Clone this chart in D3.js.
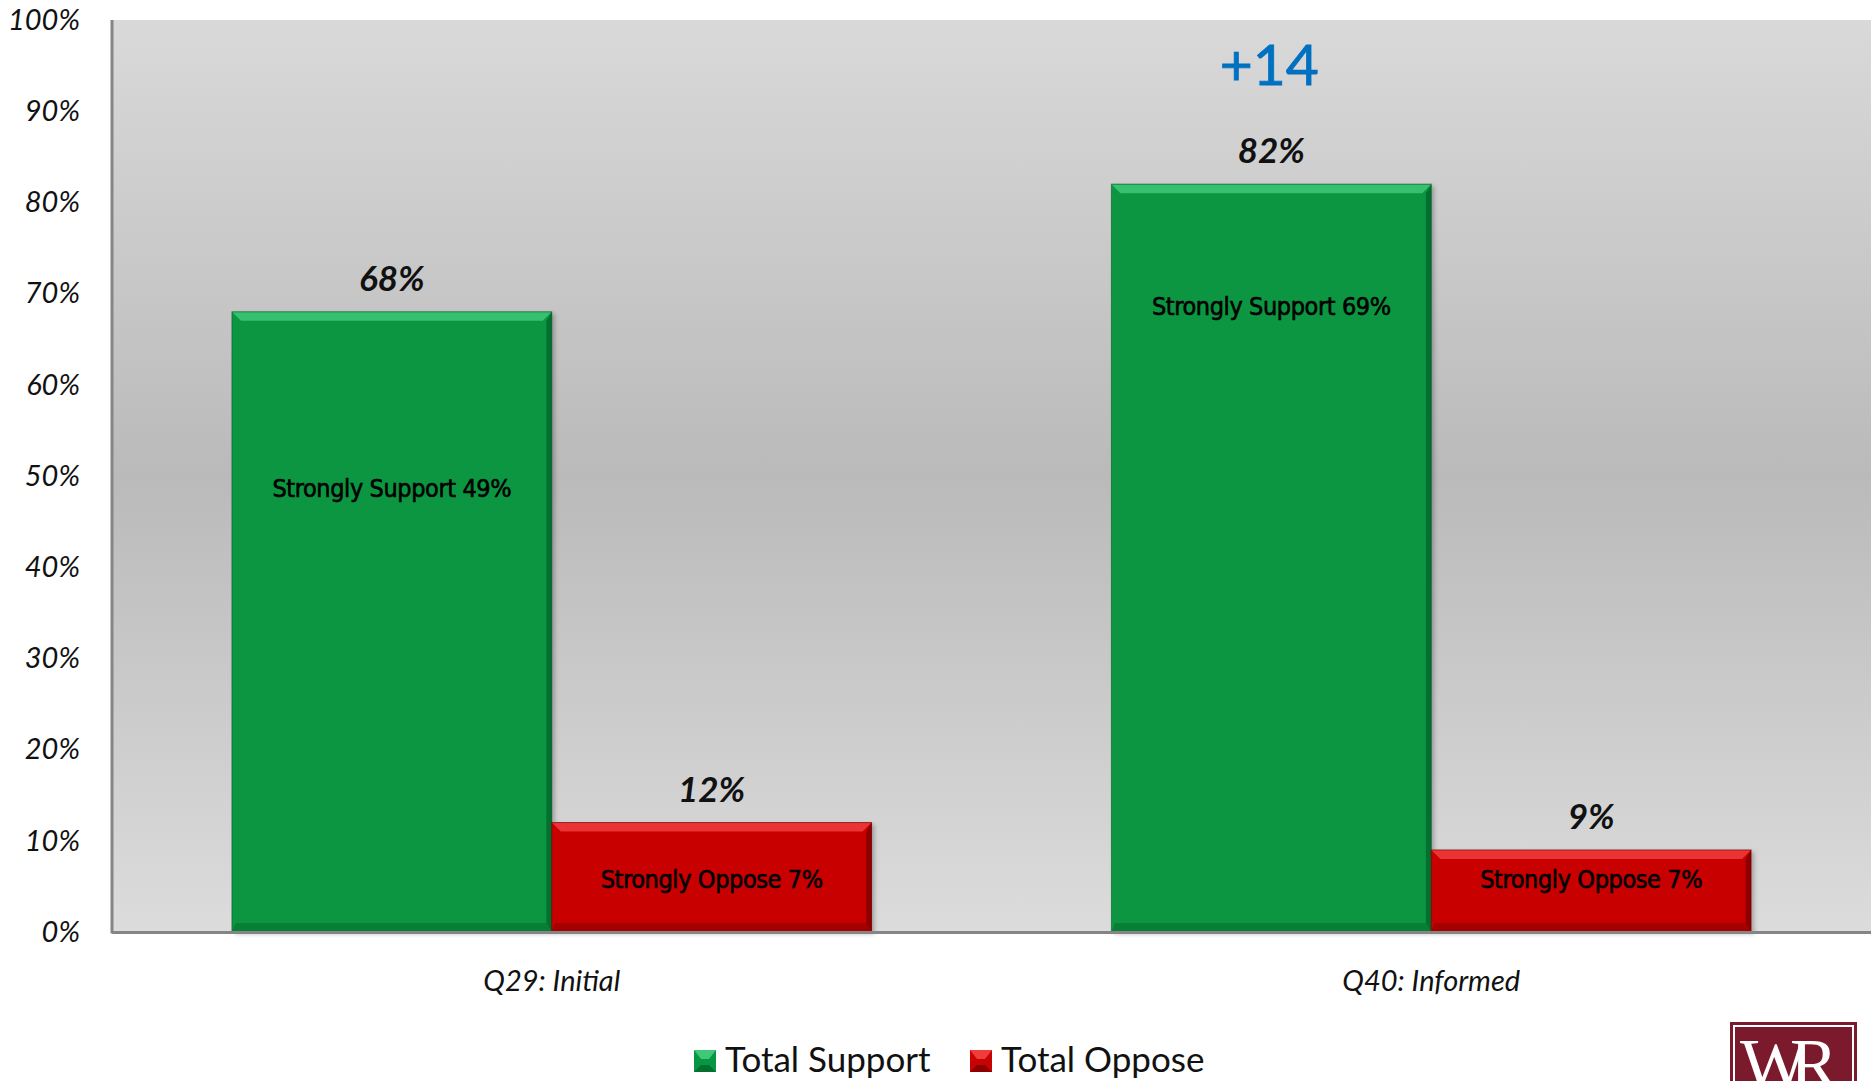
<!DOCTYPE html>
<html>
<head>
<meta charset="utf-8">
<script src="https://cdn.jsdelivr.net/npm/d3@7"></script>
<style>
  html, body { margin: 0; padding: 0; background: #ffffff; }
  svg { display: block; }
</style>
</head>
<body>
<svg id="chart" width="1871" height="1081"></svg>
<script>
// ---- data ----
const categories = ["Q29: Initial", "Q40: Informed"];
const seriesNames = ["Total Support", "Total Oppose"];
const totalSupport = [68, 82];
const totalOppose = [12, 9];
const strongSupport = [49, 69];
const strongOppose = [7, 7];
const yTicks = [0, 10, 20, 30, 40, 50, 60, 70, 80, 90, 100];
const changeLabel = "+14";

// ---- layout ----
const W = 1871, H = 1081;
const plot = { left: 112, right: 1871, top: 20, bottom: 932 };
const svg = d3.select("#chart");
const defs = svg.append("defs");

// background gradient
const bg = defs.append("linearGradient").attr("id", "bgGrad").attr("x1", 0).attr("y1", 0).attr("x2", 0).attr("y2", 1);
bg.append("stop").attr("offset", "0%").attr("stop-color", "#d9d9d9");
bg.append("stop").attr("offset", "50%").attr("stop-color", "#bababa");
bg.append("stop").attr("offset", "100%").attr("stop-color", "#dcdcdc");

const shadow = defs.append("filter").attr("id", "shadow").attr("x", "-10%").attr("y", "-10%").attr("width", "130%").attr("height", "130%");
shadow.append("feDropShadow").attr("dx", 3).attr("dy", 2).attr("stdDeviation", 2).attr("flood-color", "#000").attr("flood-opacity", 0.25);

const y = d3.scaleLinear().domain([0, 100]).range([plot.bottom, plot.top]);
const x0 = d3.scaleBand().domain(categories).range([plot.left, plot.right]).paddingInner(0).paddingOuter(0);
const x1 = d3.scaleBand().domain(seriesNames).range([0, x0.bandwidth()]).paddingInner(0).paddingOuter(0.375);

const colors = {
  "Total Support": { main: "#079643", light: "#3fc877", dark: "#04702f", darker: "#035a25", labelOffset: 5 },
  "Total Oppose": { main: "#c80303", light: "#f03c3c", dark: "#8e0000", darker: "#6a0000", labelOffset: 13 }
};

// plot background
svg.append("rect").attr("x", plot.left).attr("y", plot.top)
  .attr("width", plot.right - plot.left).attr("height", plot.bottom - plot.top)
  .attr("fill", "url(#bgGrad)");

// y axis
const yAxis = d3.axisLeft(y).tickValues(yTicks).tickFormat(d => d + "%").tickSize(0).tickPadding(32);
const gy = svg.append("g").attr("transform", `translate(${plot.left},0)`).call(yAxis);
gy.select(".domain").remove();
gy.selectAll("text")
  .attr("font-family", "Lato, 'Open Sans', sans-serif")
  .attr("font-style", "italic")
  .attr("font-size", 29)
  .attr("fill", "#111");

// x axis labels
const xAxis = d3.axisBottom(x0).tickSize(0).tickPadding(38);
const gx = svg.append("g").attr("transform", `translate(0,${plot.bottom})`).call(xAxis);
gx.select(".domain").remove();
gx.selectAll("text")
  .attr("font-family", "Lato, 'Open Sans', sans-serif")
  .attr("font-style", "italic")
  .attr("font-size", 29)
  .attr("fill", "#111");

// bars
const rows = categories.map((c, i) => ({
  cat: c,
  vals: [
    { s: "Total Support", v: totalSupport[i], strong: strongSupport[i], strongLabel: "Strongly Support " },
    { s: "Total Oppose", v: totalOppose[i], strong: strongOppose[i], strongLabel: "Strongly Oppose " }
  ]
}));

const groups = svg.selectAll("g.grp").data(rows).join("g")
  .attr("class", "grp")
  .attr("transform", d => `translate(${x0(d.cat)},0)`);

const bars = groups.selectAll("g.bar").data(d => d.vals).join("g").attr("class", "bar");

const bev = 9;
bars.each(function(d) {
  const g = d3.select(this);
  const c = colors[d.s];
  const bx = x1(d.s), bw = x1.bandwidth();
  const by = y(d.v), bh = y(0) - y(d.v);
  g.append("rect").attr("x", bx).attr("y", by).attr("width", bw).attr("height", bh)
    .attr("fill", c.main).attr("filter", "url(#shadow)");
  // top bevel
  g.append("path").attr("d", `M${bx},${by}L${bx + bw},${by}L${bx + bw - bev},${by + bev}L${bx + bev},${by + bev}Z`)
    .attr("fill", c.light).attr("opacity", 0.85);
  // right bevel
  g.append("path").attr("d", `M${bx + bw},${by}L${bx + bw},${by + bh}L${bx + bw - bev * 0.6},${by + bh - bev}L${bx + bw - bev * 0.6},${by + bev}Z`)
    .attr("fill", c.dark);
  // bottom bevel
  g.append("path").attr("d", `M${bx},${by + bh}L${bx + bw},${by + bh}L${bx + bw - bev * 0.6},${by + bh - bev}L${bx + bev * 0.4},${by + bh - bev}Z`)
    .attr("fill", c.dark).attr("opacity", 0.6);
  g.append("rect").attr("x", bx).attr("y", by).attr("width", bw).attr("height", bh)
    .attr("fill", "none").attr("stroke", c.darker).attr("stroke-width", 1).attr("stroke-opacity", 0.6);

  // value label
  g.append("text").attr("x", bx + bw / 2).attr("y", by - 21)
    .attr("text-anchor", "middle")
    .attr("font-family", "Lato, 'Open Sans', sans-serif")
    .attr("font-style", "italic").attr("font-weight", "bold")
    .attr("font-size", 35).attr("fill", "#111")
    .text(d.v + "%");

  // strongly label
  g.append("text").attr("x", bx + bw / 2).attr("y", y(d.strong) + c.labelOffset)
    .attr("text-anchor", "middle").attr("dominant-baseline", "middle")
    .attr("font-family", "'DejaVu Sans Condensed', 'Liberation Sans Narrow', sans-serif")
    .attr("font-size", 25).attr("fill", "#000")
    .attr("stroke", "#000").attr("stroke-width", 0.6)
    .attr("letter-spacing", -0.4)
    .text(d.strongLabel + d.strong + "%");
});

// change annotation above second group
svg.append("text")
  .attr("x", x0(categories[1]) + x1("Total Support") + x1.bandwidth() / 2 - 2)
  .attr("y", y(totalSupport[1]) - 99)
  .attr("text-anchor", "middle")
  .attr("font-family", "Lato, 'Open Sans', sans-serif")
  .attr("font-size", 57).attr("fill", "#0070c0")
  .attr("stroke", "#0070c0").attr("stroke-width", 0.8)
  .text(changeLabel);

// axis lines
svg.append("line").attr("x1", plot.left).attr("x2", plot.left).attr("y1", plot.top).attr("y2", plot.bottom + 1.5)
  .attr("stroke", "#858585").attr("stroke-width", 3);
svg.append("line").attr("x1", plot.left).attr("x2", plot.right).attr("y1", plot.bottom + 0.5).attr("y2", plot.bottom + 0.5)
  .attr("stroke", "#858585").attr("stroke-width", 3);

// legend
const legend = svg.append("g").attr("transform", "translate(694,1050)");
const legItems = [
  { s: seriesNames[0], x: 0 },
  { s: seriesNames[1], x: 276 }
];
legItems.forEach(it => {
  const c = colors[it.s];
  const g = legend.append("g").attr("transform", `translate(${it.x},0)`);
  g.append("rect").attr("x", 0).attr("y", 0).attr("width", 22).attr("height", 22).attr("fill", c.main);
  g.append("path").attr("d", "M0,0L22,0L15,9L7,9Z").attr("fill", c.light);
  g.append("path").attr("d", "M0,22L22,22L15,15L7,15Z").attr("fill", c.dark);
  g.append("text").attr("x", 31).attr("y", 22)
    .attr("font-family", "Lato, 'Open Sans', sans-serif")
    .attr("font-size", 35).attr("fill", "#111")
    .text(it.s);
});

// logo
const logo = svg.append("g").attr("transform", "translate(1730,1022)");
logo.append("rect").attr("x", 0).attr("y", 0).attr("width", 127).attr("height", 80).attr("fill", "#7b1a2c");
logo.append("rect").attr("x", 4).attr("y", 4).attr("width", 119).attr("height", 80).attr("fill", "none")
  .attr("stroke", "#ffffff").attr("stroke-width", 2);
logo.append("text").attr("x", 10).attr("y", 66)
  .attr("font-family", "'Liberation Serif', 'DejaVu Serif', serif")
  .attr("font-size", 72).attr("fill", "#ffffff").attr("letter-spacing", -18)
  .text("WR");
</script>
</body>
</html>
